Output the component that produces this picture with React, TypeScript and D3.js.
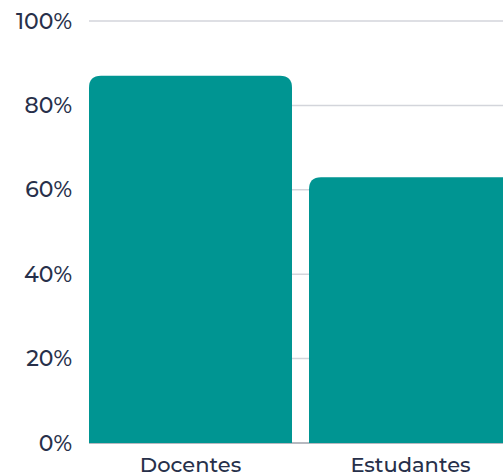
import React from "react";
import * as d3 from "d3";

const categories = ["Docentes", "Estudantes"];
const values = [87, 63];
const yTicks = [0, 20, 40, 60, 80, 100];

const W = 503;
const H = 472;
const left = 89;
const top = 21;
const bottom = 443;

function roundedTopBar(x: number, y: number, w: number, h: number, r: number) {
  const rr = Math.min(r, w / 2, h);
  return `M${x},${y + h}V${y + rr}Q${x},${y} ${x + rr},${y}H${x + w - rr}Q${x + w},${y} ${x + w},${y + rr}V${y + h}Z`;
}

export default function App() {
  const y = d3.scaleLinear().domain([0, 100]).range([bottom, top]);
  const x = d3
    .scaleBand<string>()
    .domain(categories)
    .range([left, 512])
    .paddingInner(17 / 220)
    .paddingOuter(0);
  const font = "Montserrat, 'Open Sans', sans-serif";
  const textColor = "#27304a";
  return (
    <svg
      width={W}
      height={H}
      style={{ position: "absolute", left: 0, top: 0 }}
      fontFamily={font}
    >
      {yTicks.map((t) => (
        <g key={t}>
          {t > 0 && (
            <line x1={left} x2={W} y1={y(t)} y2={y(t)} stroke="#d3d5db" strokeWidth={1.5} />
          )}
          <text
            x={72}
            y={y(t)}
            textAnchor="end"
            dominantBaseline="central"
            fontSize={22}
            fontWeight={500}
            fill={textColor}
          >
            {t}%
          </text>
        </g>
      ))}
      <line x1={left} x2={W} y1={bottom} y2={bottom} stroke="#9ea2ab" strokeWidth={1.5} />
      {categories.map((c, i) => (
        <path
          key={c}
          d={roundedTopBar(x(c)!, y(values[i]), x.bandwidth(), bottom - y(values[i]), 12)}
          fill="#009592"
        />
      ))}
      {categories.map((c) => (
        <text
          key={c}
          x={x(c)! + x.bandwidth() / 2}
          y={472}
          textAnchor="middle"
          fontSize={21}
          fontWeight={500}
          fill={textColor}
        >
          {c}
        </text>
      ))}
    </svg>
  );
}
